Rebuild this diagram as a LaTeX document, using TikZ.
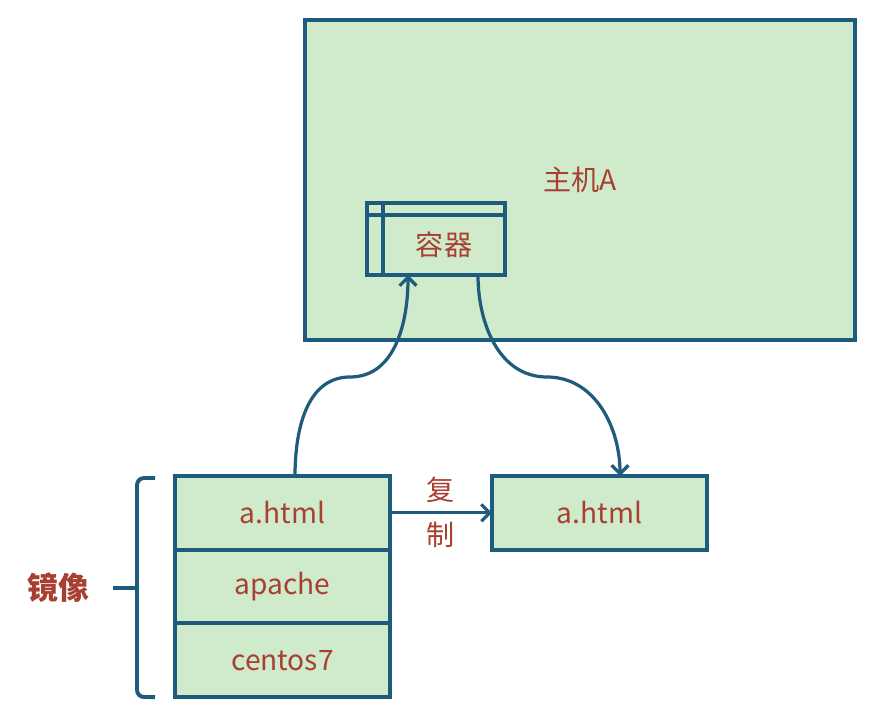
\documentclass[tikz,border=0pt]{standalone}
\usepackage{fontspec}
\setmainfont{Noto Sans CJK SC}
\usetikzlibrary{arrows.meta,calc,positioning}
\definecolor{hostgreen}{HTML}{CFEBCC}
\definecolor{edgeblue}{HTML}{1F5B7C}
\definecolor{labelred}{HTML}{A83F30}

\begin{document}
\begin{tikzpicture}[every node/.style={font=\fontsize{20}{24}\selectfont,text=labelred},
  box/.style={draw=edgeblue,line width=2.8pt,fill=hostgreen,inner sep=0pt,outer sep=0pt},
  layer/.style={box,minimum width=5.375cm,minimum height=1.842cm},
  flow/.style={draw=edgeblue,line width=2.3pt,-{Straight Barb[length=6pt,width=12pt]}},
  brace/.style={draw=edgeblue,line width=2.8pt,rounded corners=5pt}]
  \useasboundingbox (0,0) rectangle (22.05,-18.05);
  \node[box,minimum width=13.75cm,minimum height=8cm] (host) at (14.5,-4.5) {主机A};
  \node[box,minimum width=3.45cm,minimum height=1.8cm] (ctr) at (10.9,-5.975) {};
  \draw[edgeblue,line width=2.8pt] ($(ctr.north west)+(0.4,0)$) -- ($(ctr.south west)+(0.4,0)$);
  \draw[edgeblue,line width=2.8pt] ($(ctr.north west)+(0,-0.3)$) -- ($(ctr.north east)+(0,-0.3)$);
  \node (ctrtext) at ($(ctr.center)+(0.2,-0.15)$) {容器};
  \node[layer] (html) at (7.0625,-12.821) {a.html};
  \node[layer,below=0pt of html] (apache) {apache};
  \node[layer,below=0pt of apache] (centos) {centos7};
  \node[layer,right=2.55cm of html] (copy) {a.html};
  \coordinate (upmid) at (8.75,-9.425);
  \coordinate (downmid) at (13.675,-9.425);
  \draw[flow] ($(html.north west)+(3.0,0)$) to[out=90,in=180] (upmid)
    to[out=0,in=-90] ($(ctr.south west)+(1.025,0)$);
  \draw[flow] ($(ctr.south west)+(2.775,0)$) to[out=-90,in=180] (downmid)
    to[out=0,in=90] ($(copy.north west)+(3.2,0)$);
  \draw[flow] (html.east) -- node[inner sep=0pt,above=0.22cm] {复}
    node[inner sep=0pt,below=0.2cm] {制} (copy.west);
  \draw[brace] ($(html.north west)+(-0.5,-0.05)$) -- (3.425,-11.95) -- (3.425,-17.425)
    -- ($(centos.south west)+(-0.5,0)$);
  \draw[brace] (3.425,-14.7) -- (2.825,-14.7);
  \node[font=\fontsize{22}{26}\selectfont\bfseries] (mirror) at (1.45,-14.7) {镜像};
\end{tikzpicture}
\end{document}
